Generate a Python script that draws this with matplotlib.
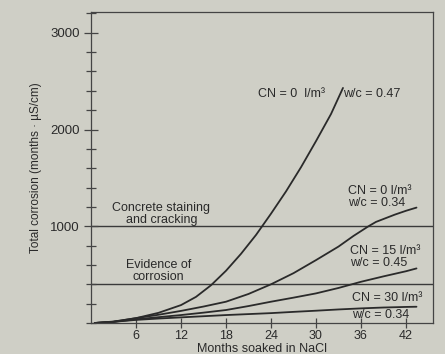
import numpy as np
import matplotlib
matplotlib.use("Agg")
import matplotlib.pyplot as plt
from matplotlib.ticker import MultipleLocator

# readings (months, total corrosion)
x_cn0_047 = [0.5, 3, 6, 9, 12, 14, 16, 18, 20, 22, 24, 26, 28, 30, 32, 33.6]
y_cn0_047 = [0, 12, 50, 105, 185, 270, 390, 540, 715, 910, 1130, 1360, 1610, 1880, 2160, 2430]

x_cn0_034 = [0.5, 3, 6, 9, 12, 15, 18, 21, 24, 27, 30, 33, 35, 37, 38, 39, 40.5, 42, 43.4]
y_cn0_034 = [0, 15, 50, 85, 125, 170, 220, 300, 400, 515, 650, 790, 900, 1000, 1045, 1075, 1120, 1160, 1193]

x_cn15 = [0.5, 3, 6, 9, 12, 15, 18, 21, 24, 27, 30, 33, 36, 39, 42, 43.4]
y_cn15 = [0, 12, 38, 60, 82, 107, 134, 175, 220, 262, 306, 362, 426, 482, 535, 564]

x_cn30 = [0.5, 3, 6, 9, 12, 15, 18, 21, 24, 27, 30, 33, 36, 39, 42, 43.4]
y_cn30 = [0, 12, 32, 46, 58, 70, 82, 92, 102, 115, 127, 140, 151, 160, 166, 168]

thresholds = [1000, 400]
x_ticks = [6, 12, 18, 24, 30, 36, 42]
y_ticks = [1000, 2000, 3000]

bg = '#cfcfc6'
ink = '#2a2a2a'

plt.rcParams['font.family'] = ['Liberation Sans', 'DejaVu Sans']

fig = plt.figure(figsize=(4.45, 3.54), dpi=100, facecolor=bg)
ax = fig.add_axes([0.2045, 0.0876, 0.7685, 0.8785])
ax.set_facecolor(bg)

for yv in thresholds:
    ax.axhline(yv, color='#3a3a3a', lw=1.0, zorder=1)

for xs, ys in [(x_cn0_047, y_cn0_047), (x_cn0_034, y_cn0_034),
               (x_cn15, y_cn15), (x_cn30, y_cn30)]:
    ax.plot(xs, ys, color=ink, lw=1.3, solid_capstyle='round', zorder=2)

ax.set_xlim(0, 45.6)
ax.set_ylim(0, 3215)
ax.set_xticks(x_ticks)
ax.set_yticks(y_ticks)
ax.yaxis.set_minor_locator(MultipleLocator(200))

ax.tick_params(axis='x', direction='inout', length=6.5, width=0.9,
               color='#444444', labelsize=9, labelcolor=ink, pad=1.5)
ax.tick_params(axis='y', which='major', direction='inout', length=10,
               width=0.9, color='#444444', labelsize=9.5, labelcolor=ink, pad=3)
ax.tick_params(axis='y', which='minor', direction='inout', length=6.5,
               width=0.9, color='#444444')

for sp in ax.spines.values():
    sp.set_color('#444444')
    sp.set_linewidth(0.9)

ax.set_xlabel('Months soaked in NaCl', fontsize=9, color=ink, labelpad=1)
ax.set_ylabel('Total corrosion (months \u00b7 \u00b5S/cm)', fontsize=8.5,
              color=ink, labelpad=6)

tk = dict(fontsize=9, color=ink, linespacing=1.0)
ax.text(22.3, 2370, 'CN = 0  l/m\u00b3', ha='left', va='center', **tk)
ax.text(33.6, 2370, 'w/c = 0.47', ha='left', va='center', **tk)
ax.text(34.3, 1305, 'CN = 0 l/m\u00b3\nw/c = 0.34', ha='left', va='center', **tk)
ax.text(34.6, 680, 'CN = 15 l/m\u00b3\nw/c = 0.45', ha='left', va='center', **tk)
ax.text(34.8, 255, 'CN = 30 l/m\u00b3', ha='left', va='center', **tk)
ax.text(34.8, 82, 'w/c = 0.34', ha='left', va='center', **tk)
ax.text(9.4, 1122, 'Concrete staining\nand cracking', ha='center', va='center', **tk)
ax.text(9.0, 537, 'Evidence of\ncorrosion', ha='center', va='center', **tk)

fig.savefig('out.png', dpi=100, facecolor=bg)
